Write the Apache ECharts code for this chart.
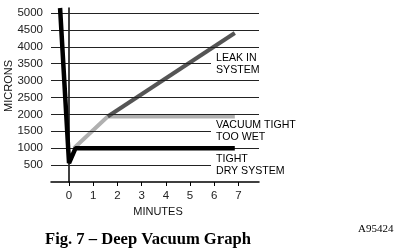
<!DOCTYPE html>
<html><head><meta charset="utf-8">
<script src="https://cdn.jsdelivr.net/npm/echarts@6/dist/echarts.min.js"></script>
<style>html,body{margin:0;padding:0;background:#fff}#c{width:401px;height:251px}</style>
</head><body><div id="c"></div>
<script>
var xTicks = [0, 1, 2, 3, 4, 5, 6, 7];
var yTicks = [500, 1000, 1500, 2000, 2500, 3000, 3500, 4000, 4500, 5000];
var tightDryMin = [-0.37, 0, 0.27, 6.85];
var tightDryVal = [5150, 560, 1000, 1000];
var tooWetMin = [0.2, 1.6, 6.85];
var tooWetVal = [1000, 1940, 1940];
var leakMin = [1.6, 6.85];
var leakVal = [1940, 4410];
var labels = ['LEAK IN\nSYSTEM', 'VACUUM TIGHT\nTOO WET', 'TIGHT\nDRY SYSTEM'];
var labelAt = [3500, 1500, 500];

function pairs(a, b) { return a.map(function (v, i) { return [v, b[i]]; }); }
var chart = echarts.init(document.getElementById('c'), null, {renderer: 'canvas'});
var FONT = 'Liberation Sans, Arial, sans-serif';
chart.setOption({
  animation: false,
  title: [
    {text: 'Fig. 7 – Deep Vacuum Graph', left: 45, top: 231, padding: 0,
     textStyle: {fontFamily: 'Liberation Serif', fontWeight: 'bold', fontSize: 16.6, color: '#000'}},
    {text: 'A95424', left: 358, top: 224, padding: 0,
     textStyle: {fontFamily: 'Liberation Serif', fontWeight: 'normal', fontSize: 11, color: '#000'}}
  ],
  grid: {left: 51, right: 142, top: 8, bottom: 69, containLabel: false, outerBoundsMode: 'none'},
  xAxis: {
    type: 'value', min: -0.745, max: 7.85,
    name: 'MINUTES', nameLocation: 'middle', nameGap: 22,
    nameTextStyle: {fontFamily: FONT, fontSize: 11, color: '#111', padding: [0, 0, 0, 6]},
    axisLine: {lineStyle: {color: '#000', width: 1.5}},
    axisTick: {customValues: xTicks, length: 4, lineStyle: {color: '#000'}},
    axisLabel: {customValues: xTicks, fontFamily: FONT, fontSize: 11.5, color: '#222', margin: 8,
      formatter: function (v) { return String(v); }},
    splitLine: {show: false}
  },
  yAxis: {
    type: 'value', min: 0, max: 5150,
    axisLine: {show: true, lineStyle: {color: '#000', width: 1.5}},
    axisTick: {show: true, customValues: yTicks, length: 6, lineStyle: {color: '#000'}},
    axisLabel: {customValues: yTicks, fontFamily: FONT, fontSize: 11.5, color: '#222', margin: 8,
      formatter: function (v) { return String(v); }},
    splitLine: {show: false}
  },
  series: [
    {type: 'line', data: pairs(tooWetMin, tooWetVal), symbol: 'none', z: 3,
     lineStyle: {color: '#b0b0b0', width: 4},
     markLine: {silent: true, symbol: 'none', label: {show: false}, animation: false,
       lineStyle: {color: '#222', width: 1, type: 'solid'},
       data: yTicks.map(function (v) { return {yAxis: v}; })}},
    {type: 'line', data: pairs(leakMin, leakVal), symbol: 'none', z: 4,
     lineStyle: {color: '#555555', width: 4}},
    {type: 'line', data: pairs(tightDryMin, tightDryVal), symbol: 'none', z: 5,
     lineStyle: {color: '#000', width: 4.5}}
  ]
});
var gr = labels.map(function (t, i) {
  var p = chart.convertToPixel({gridIndex: 0}, [0, labelAt[i]]);
  return {type: 'text', z: 100, x: 211, y: Math.round(p[1]) - 12,
    style: {text: t, font: '10.6px ' + FONT, fill: '#000', lineHeight: 12,
      backgroundColor: '#fff', padding: [0, 8, 0, 5]}};
});
gr.push({type: 'text', z: 100, x: 9, y: 86, rotation: Math.PI / 2,
  style: {text: 'MICRONS', font: '11px ' + FONT, fill: '#111', align: 'center', verticalAlign: 'middle'}});
chart.setOption({graphic: gr});
</script></body></html>
